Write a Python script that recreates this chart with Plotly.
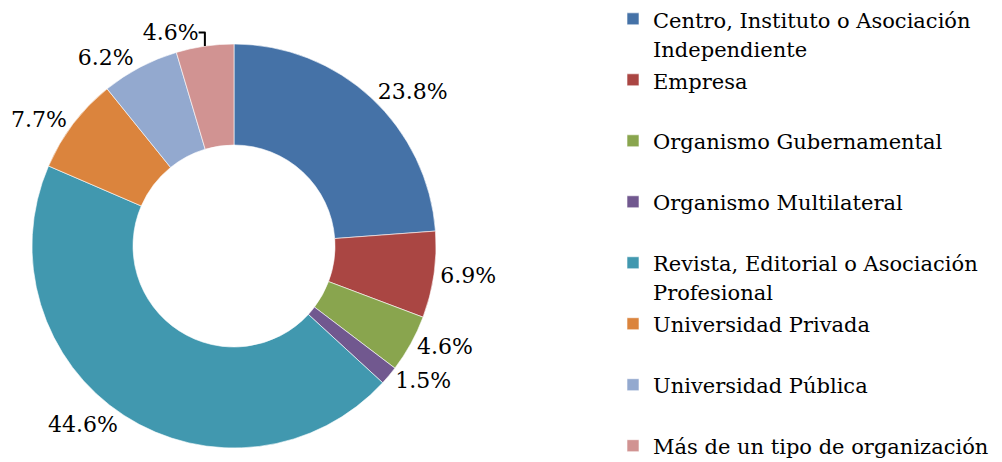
import plotly.graph_objects as go

categories = [
    "Centro, Instituto o Asociación|Independiente",
    "Empresa",
    "Organismo Gubernamental",
    "Organismo Multilateral",
    "Revista, Editorial o Asociación|Profesional",
    "Universidad Privada",
    "Universidad Pública",
    "Más de un tipo de organización",
]
values = [23.8, 6.9, 4.6, 1.5, 44.6, 7.7, 6.2, 4.6]
colors = ["#4572A7", "#AA4643", "#89A54E", "#71588F",
          "#4198AF", "#DB843D", "#93A9CF", "#D19392"]

FONT = "DejaVu Serif"
LEG_FS = 22.3   # sets the line spacing of the legend
TXT_FS = 21     # size of the legend text itself


def legend_label(cat, last):
    lines = cat.split("|")
    if len(lines) == 1 and not last:
        lines.append("\u00a0")
    return "<br>".join(f'<span style="font-size:{TXT_FS}px">{l}</span>' for l in lines)


labels = [legend_label(c, i == len(categories) - 1) for i, c in enumerate(categories)]

W, H = 1002, 462
cx, cy, r = 226, 238, 202

fig = go.Figure(go.Pie(
    labels=labels,
    values=values,
    sort=False,
    direction="clockwise",
    rotation=0,
    hole=0.5,
    marker=dict(colors=colors, line=dict(color="white", width=0.6)),
    texttemplate="%{value:.1f}%",
    textposition="outside",
    outsidetextfont=dict(family=FONT, size=22, color="black"),
    hoverinfo="skip",
    domain=dict(x=[(cx - r) / W, (cx + r) / W],
                y=[(H - cy - r) / H, (H - cy + r) / H]),
))

fig.update_layout(
    width=W, height=H,
    margin=dict(l=0, r=0, t=0, b=0, autoexpand=False),
    paper_bgcolor="white",
    plot_bgcolor="white",
    font=dict(family=FONT, color="black"),
    showlegend=True,
    legend=dict(
        x=605 / W, xanchor="left",
        y=1.022, yanchor="top",
        valign="top",
        font=dict(family=FONT, size=LEG_FS, color="black"),
        bgcolor="rgba(0,0,0,0)",
        maxheight=600,
    ),
)

fig.write_html("out.html")
